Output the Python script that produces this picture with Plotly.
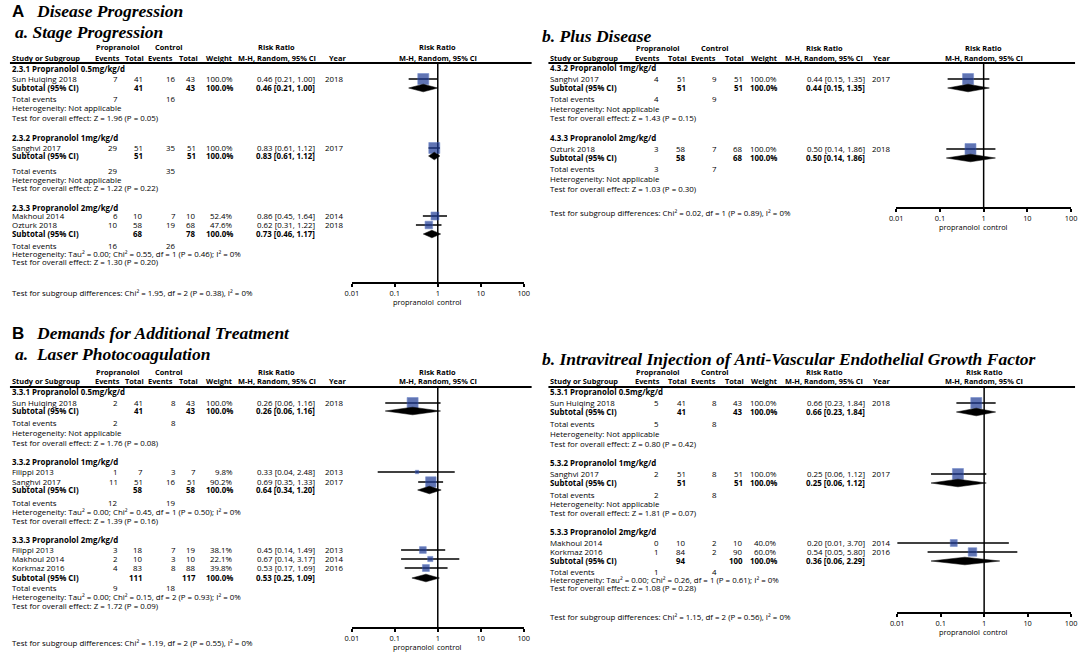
import math
import plotly.graph_objects as go

W, H = 1084, 653
FONT = "Open Sans"
FS = 7.9
HFS = 7.4
TFS = 7.4
SERIF = "Liberation Serif"
SANSB = "Liberation Sans"
BLUE = "#1d3a94"
BLUE_EDGE = "#3f5fb8"

# ---------------- DATA ----------------
# A-a  Stage progression
AA_GROUPS = ["2.3.1 Propranolol 0.5mg/kg/d", "2.3.2 Propranolol 1mg/kg/d", "2.3.3 Propranolol 2mg/kg/d"]
AA_STUDY = ["Sun Huiqing 2018", "Sanghvi 2017", "Makhoul 2014", "Ozturk 2018"]
AA_GROUP_OF = [0, 1, 2, 2]
AA_EV_P = [7, 29, 6, 10]
AA_N_P = [41, 51, 10, 58]
AA_EV_C = [16, 35, 7, 19]
AA_N_C = [43, 51, 10, 68]
AA_W = [100.0, 100.0, 52.4, 47.6]
AA_RR = [0.46, 0.83, 0.86, 0.62]
AA_LO = [0.21, 0.61, 0.45, 0.31]
AA_HI = [1.00, 1.12, 1.64, 1.22]
AA_YEAR = [2018, 2017, 2014, 2018]
AA_SUB_NP = [41, 51, 68]
AA_SUB_NC = [43, 51, 78]
AA_SUB_RR = [0.46, 0.83, 0.73]
AA_SUB_LO = [0.21, 0.61, 0.46]
AA_SUB_HI = [1.00, 1.12, 1.17]
AA_TOT_EP = [7, 29, 16]
AA_TOT_EC = [16, 35, 26]
AA_HET = ["Not applicable", "Not applicable", "Tau² = 0.00; Chi² = 0.55, df = 1 (P = 0.46); I² = 0%"]
AA_Z = ["Z = 1.96 (P = 0.05)", "Z = 1.22 (P = 0.22)", "Z = 1.30 (P = 0.20)"]
AA_DIFF = "Chi² = 1.95, df = 2 (P = 0.38), I² = 0%"

# A-b  Plus disease
AB_GROUPS = ["4.3.2 Propranolol 1mg/kg/d", "4.3.3 Propranolol 2mg/kg/d"]
AB_STUDY = ["Sanghvi 2017", "Ozturk 2018"]
AB_GROUP_OF = [0, 1]
AB_EV_P = [4, 3]
AB_N_P = [51, 58]
AB_EV_C = [9, 7]
AB_N_C = [51, 68]
AB_W = [100.0, 100.0]
AB_RR = [0.44, 0.50]
AB_LO = [0.15, 0.14]
AB_HI = [1.35, 1.86]
AB_YEAR = [2017, 2018]
AB_SUB_NP = [51, 58]
AB_SUB_NC = [51, 68]
AB_SUB_RR = [0.44, 0.50]
AB_SUB_LO = [0.15, 0.14]
AB_SUB_HI = [1.35, 1.86]
AB_TOT_EP = [4, 3]
AB_TOT_EC = [9, 7]
AB_HET = ["Not applicable", "Not applicable"]
AB_Z = ["Z = 1.43 (P = 0.15)", "Z = 1.03 (P = 0.30)"]
AB_DIFF = "Chi² = 0.02, df = 1 (P = 0.89), I² = 0%"

# B-a  Laser photocoagulation
BA_GROUPS = ["3.3.1 Propranolol 0.5mg/kg/d", "3.3.2 Propranolol 1mg/kg/d", "3.3.3 Propranolol 2mg/kg/d"]
BA_STUDY = ["Sun Huiqing 2018", "Filippi 2013", "Sanghvi 2017", "Filippi 2013", "Makhoul 2014", "Korkmaz 2016"]
BA_GROUP_OF = [0, 1, 1, 2, 2, 2]
BA_EV_P = [2, 1, 11, 3, 2, 4]
BA_N_P = [41, 7, 51, 18, 10, 83]
BA_EV_C = [8, 3, 16, 7, 3, 8]
BA_N_C = [43, 7, 51, 19, 10, 88]
BA_W = [100.0, 9.8, 90.2, 38.1, 22.1, 39.8]
BA_RR = [0.26, 0.33, 0.69, 0.45, 0.67, 0.53]
BA_LO = [0.06, 0.04, 0.35, 0.14, 0.14, 0.17]
BA_HI = [1.16, 2.48, 1.33, 1.49, 3.17, 1.69]
BA_YEAR = [2018, 2013, 2017, 2013, 2014, 2016]
BA_SUB_NP = [41, 58, 111]
BA_SUB_NC = [43, 58, 117]
BA_SUB_RR = [0.26, 0.64, 0.53]
BA_SUB_LO = [0.06, 0.34, 0.25]
BA_SUB_HI = [1.16, 1.20, 1.09]
BA_TOT_EP = [2, 12, 9]
BA_TOT_EC = [8, 19, 18]
BA_HET = ["Not applicable", "Tau² = 0.00; Chi² = 0.45, df = 1 (P = 0.50); I² = 0%",
          "Tau² = 0.00; Chi² = 0.15, df = 2 (P = 0.93); I² = 0%"]
BA_Z = ["Z = 1.76 (P = 0.08)", "Z = 1.39 (P = 0.16)", "Z = 1.72 (P = 0.09)"]
BA_DIFF = "Chi² = 1.19, df = 2 (P = 0.55), I² = 0%"

# B-b  Intravitreal anti-VEGF
BB_GROUPS = ["5.3.1 Propranolol 0.5mg/kg/d", "5.3.2 Propranolol 1mg/kg/d", "5.3.3 Propranolol 2mg/kg/d"]
BB_STUDY = ["Sun Huiqing 2018", "Sanghvi 2017", "Makhoul 2014", "Korkmaz 2016"]
BB_GROUP_OF = [0, 1, 2, 2]
BB_EV_P = [5, 2, 0, 1]
BB_N_P = [41, 51, 10, 84]
BB_EV_C = [8, 8, 2, 2]
BB_N_C = [43, 51, 10, 90]
BB_W = [100.0, 100.0, 40.0, 60.0]
BB_RR = [0.66, 0.25, 0.20, 0.54]
BB_LO = [0.23, 0.06, 0.01, 0.05]
BB_HI = [1.84, 1.12, 3.70, 5.80]
BB_YEAR = [2018, 2017, 2014, 2016]
BB_SUB_NP = [41, 51, 94]
BB_SUB_NC = [43, 51, 100]
BB_SUB_RR = [0.66, 0.25, 0.36]
BB_SUB_LO = [0.23, 0.06, 0.06]
BB_SUB_HI = [1.84, 1.12, 2.29]
BB_TOT_EP = [5, 2, 1]
BB_TOT_EC = [8, 8, 4]
BB_HET = ["Not applicable", "Not applicable", "Tau² = 0.00; Chi² = 0.26, df = 1 (P = 0.61); I² = 0%"]
BB_Z = ["Z = 0.80 (P = 0.42)", "Z = 1.81 (P = 0.07)", "Z = 1.08 (P = 0.28)"]
BB_DIFF = "Chi² = 1.15, df = 2 (P = 0.56), I² = 0%"

TICK_VALS = [0.01, 0.1, 1, 10, 100]
TICK_TEXT = ["0.01", "0.1", "1", "10", "100"]

# ---------------- LAYOUT (pixel positions) ----------------
COLS_L = dict(study=5, ev1=112, tot1=138, ev2=171, tot2=191, wt=229, ci=312, year=322,
              h_ev1=114, h_tot1=139, h_ev2=168, h_tot2=193, h_wt=228, h_ci=273, h_year=343,
              h_prop=112, h_ctrl=164, line0=3, line1=531)
COLS_R = dict(study=550, ev1=660, tot1=687, ev2=719, tot2=745, wt=779, ci=868, year=876,
              h_ev1=661, h_tot1=688, h_ev2=718, h_tot2=746, h_wt=779, h_ci=827, h_year=894,
              h_prop=659, h_ctrl=717, line0=548, line1=1081)

POS_AA = dict(head1=47, head2=58, line=63, groups=[69, 138, 208], studies=[79, 148, 216, 225],
              sub=[88, 156, 234], te=[99, 171, 246], het=[108, 180, 254], test=[118, 188, 262],
              diff=293, axis=283, fx0=349, fx1=523, lab=302)
POS_AB = dict(head1=48, head2=58, line=63, groups=[68, 138], studies=[79, 149],
              sub=[88, 158], te=[99, 169], het=[109, 179], test=[118, 189],
              diff=213, axis=208, fx0=900, fx1=1077, lab=227)
POS_BA = dict(head1=372, head2=381, line=387, groups=[392, 462, 540], studies=[403, 472, 482, 550, 559, 568],
              sub=[411, 490, 578], te=[423, 503, 588], het=[433, 512, 597], test=[443, 521, 606],
              diff=643, axis=628, fx0=349, fx1=523, lab=647)
POS_BB = dict(head1=372, head2=381, line=387, groups=[392, 463, 532], studies=[403, 474, 543, 552],
              sub=[412, 483, 561], te=[424, 495, 572], het=[434, 504, 580], test=[444, 513, 588],
              diff=617, axis=613, fx0=901, fx1=1077, lab=632)

annotations = []
shapes = []
traces = []


def txt(x, y, s, anchor="left", bold=False, size=FS, family=FONT):
    annotations.append(dict(
        x=x, y=y, xref="x", yref="y", text=("<b>%s</b>" % s) if bold else s,
        showarrow=False, xanchor=anchor, yanchor="middle", borderpad=0, borderwidth=0,
        font=dict(family=family, size=size, color="black")))


def hdr(x, y, s, anchor):
    txt(x, y, s, anchor, True, HFS)


def ci_str(r, lo, hi):
    return "%.2f [%.2f, %.2f]" % (r, lo, hi)


def panel(d, C, P, xa):
    # headers
    hdr(C["h_prop"], P["head1"], "Propranolol", "center")
    hdr(C["h_ctrl"], P["head1"], "Control", "center")
    hdr(C["h_ci"], P["head1"], "Risk Ratio", "center")
    hdr(C["study"], P["head2"], "Study or Subgroup", "left")
    hdr(C["h_ev1"], P["head2"], "Events", "right")
    hdr(C["h_tot1"], P["head2"], "Total", "right")
    hdr(C["h_ev2"], P["head2"], "Events", "right")
    hdr(C["h_tot2"], P["head2"], "Total", "right")
    hdr(C["h_wt"], P["head2"], "Weight", "right")
    hdr(C["h_ci"], P["head2"], "M-H, Random, 95% CI", "center")
    hdr(C["h_year"], P["head2"], "Year", "right")
    fmid = (P["fx0"] + P["fx1"]) / 2.0
    hdr(fmid, P["head1"], "Risk Ratio", "center")
    hdr(fmid, P["head2"], "M-H, Random, 95% CI", "center")
    shapes.append(dict(type="line", xref="x", yref="y", x0=C["line0"], x1=C["line1"],
                       y0=P["line"], y1=P["line"], line=dict(color="black", width=2)))

    for g, gname in enumerate(d["groups"]):
        txt(C["study"], P["groups"][g], gname, "left", True)
        ys = P["sub"][g]
        txt(C["study"], ys, "Subtotal (95% CI)", "left", True)
        txt(C["tot1"], ys, str(d["sub_np"][g]), "right", True)
        txt(C["tot2"], ys, str(d["sub_nc"][g]), "right", True)
        txt(C["wt"], ys, "100.0%", "right", True)
        txt(C["ci"], ys, ci_str(d["sub_rr"][g], d["sub_lo"][g], d["sub_hi"][g]), "right", True)
        txt(C["study"], P["te"][g], "Total events")
        txt(C["ev1"], P["te"][g], str(d["tot_ep"][g]), "right")
        txt(C["ev2"], P["te"][g], str(d["tot_ec"][g]), "right")
        txt(C["study"], P["het"][g], "Heterogeneity: " + d["het"][g])
        txt(C["study"], P["test"][g], "Test for overall effect: " + d["z"][g])

    for i, name in enumerate(d["study"]):
        y = P["studies"][i]
        txt(C["study"], y, name)
        txt(C["ev1"], y, str(d["ev_p"][i]), "right")
        txt(C["tot1"], y, str(d["n_p"][i]), "right")
        txt(C["ev2"], y, str(d["ev_c"][i]), "right")
        txt(C["tot2"], y, str(d["n_c"][i]), "right")
        txt(C["wt"], y, "%.1f%%" % d["w"][i], "right")
        txt(C["ci"], y, ci_str(d["rr"][i], d["lo"][i], d["hi"][i]), "right")
        txt(C["year"], y, str(d["year"][i]), "left")

    txt(C["study"], P["diff"], "Test for subgroup differences: " + d["diff"])

    # forest
    txt(fmid - 4, P["lab"], "propranolol", "right", False, TFS)
    txt(fmid - 1, P["lab"], "control", "left", False, TFS)

    traces.append(go.Scatter(x=[1, 1], y=[P["line"], P["axis"]], xaxis=xa, yaxis="y", mode="lines",
                             line=dict(color="black", width=1.5), hoverinfo="skip"))
    lx, ly = [], []
    for i in range(len(d["study"])):
        lx += [d["lo"][i], d["hi"][i], None]
        ly += [P["studies"][i], P["studies"][i], None]
    traces.append(go.Scatter(x=lx, y=ly, xaxis=xa, yaxis="y", mode="lines",
                             line=dict(color="black", width=1.5), hoverinfo="skip"))
    traces.append(go.Scatter(
        x=d["rr"], y=P["studies"], xaxis=xa, yaxis="y", mode="markers",
        marker=dict(symbol="square", size=[max(2.5, 11 * math.sqrt(w / 100.0)) for w in d["w"]],
                    color=BLUE, line=dict(color=BLUE_EDGE, width=0.6)),
        hoverinfo="skip"))
    for g in range(len(d["groups"])):
        yy = P["sub"][g]
        r, lo, hi = d["sub_rr"][g], d["sub_lo"][g], d["sub_hi"][g]
        traces.append(go.Scatter(x=[lo, r, hi, r, lo], y=[yy, yy - 3.8, yy, yy + 3.8, yy],
                                 xaxis=xa, yaxis="y", mode="lines", fill="toself",
                                 fillcolor="black", line=dict(color="black", width=0.5),
                                 hoverinfo="skip"))


def pack(prefix):
    g = globals()
    keys = ["groups", "study", "group_of", "ev_p", "n_p", "ev_c", "n_c", "w", "rr", "lo", "hi", "year",
            "sub_np", "sub_nc", "sub_rr", "sub_lo", "sub_hi", "tot_ep", "tot_ec", "het", "z", "diff"]
    return {k: g[prefix + "_" + k.upper()] for k in keys}


panel(pack("AA"), COLS_L, POS_AA, "x2")
panel(pack("AB"), COLS_R, POS_AB, "x3")
panel(pack("BA"), COLS_L, POS_BA, "x4")
panel(pack("BB"), COLS_R, POS_BB, "x5")

# titles
TS = 17.5
txt(5, 11, "A", "left", True, 17, SANSB)
txt(29, 11, "<i>Disease Progression</i>", "left", True, TS, SERIF)
txt(8, 32, "<i>a. Stage Progression</i>", "left", True, TS, SERIF)
txt(541, 36, "<i>b. Plus Disease</i>", "left", True, TS, SERIF)
txt(5, 333, "B", "left", True, 17, SANSB)
txt(29, 333, "<i>Demands for Additional Treatment</i>", "left", True, TS, SERIF)
txt(8, 354, "<i>a.\u00a0 Laser Photocoagulation</i>", "left", True, TS, SERIF)
txt(541, 359, "<i>b. Intravitreal Injection of Anti-Vascular Endothelial Growth Factor</i>", "left", True, TS, SERIF)

fig = go.Figure(traces)


def faxis(P):
    return dict(type="log", range=[-2, 2], domain=[P["fx0"] / W, P["fx1"] / W], anchor="free",
                position=1 - P["axis"] / H, showline=True, linecolor="black", linewidth=1.5,
                ticks="outside", ticklen=3, tickwidth=1.5, tickcolor="black",
                tickvals=TICK_VALS, ticktext=TICK_TEXT, showgrid=False, zeroline=False,
                tickfont=dict(family=FONT, size=TFS, color="black"), fixedrange=True)


fig.update_layout(
    width=W, height=H, autosize=False, margin=dict(l=0, r=0, t=0, b=0, pad=0),
    paper_bgcolor="white", plot_bgcolor="rgba(0,0,0,0)", showlegend=False,
    xaxis=dict(range=[0, W], visible=False, domain=[0, 1], fixedrange=True),
    yaxis=dict(range=[H, 0], visible=False, domain=[0, 1], fixedrange=True),
    xaxis2=faxis(POS_AA), xaxis3=faxis(POS_AB), xaxis4=faxis(POS_BA), xaxis5=faxis(POS_BB),
    annotations=annotations, shapes=shapes,
)

fig.write_html("out.html", config={"displayModeBar": False},
               post_script="document.body.style.margin='0px';document.body.style.overflow='hidden';")
